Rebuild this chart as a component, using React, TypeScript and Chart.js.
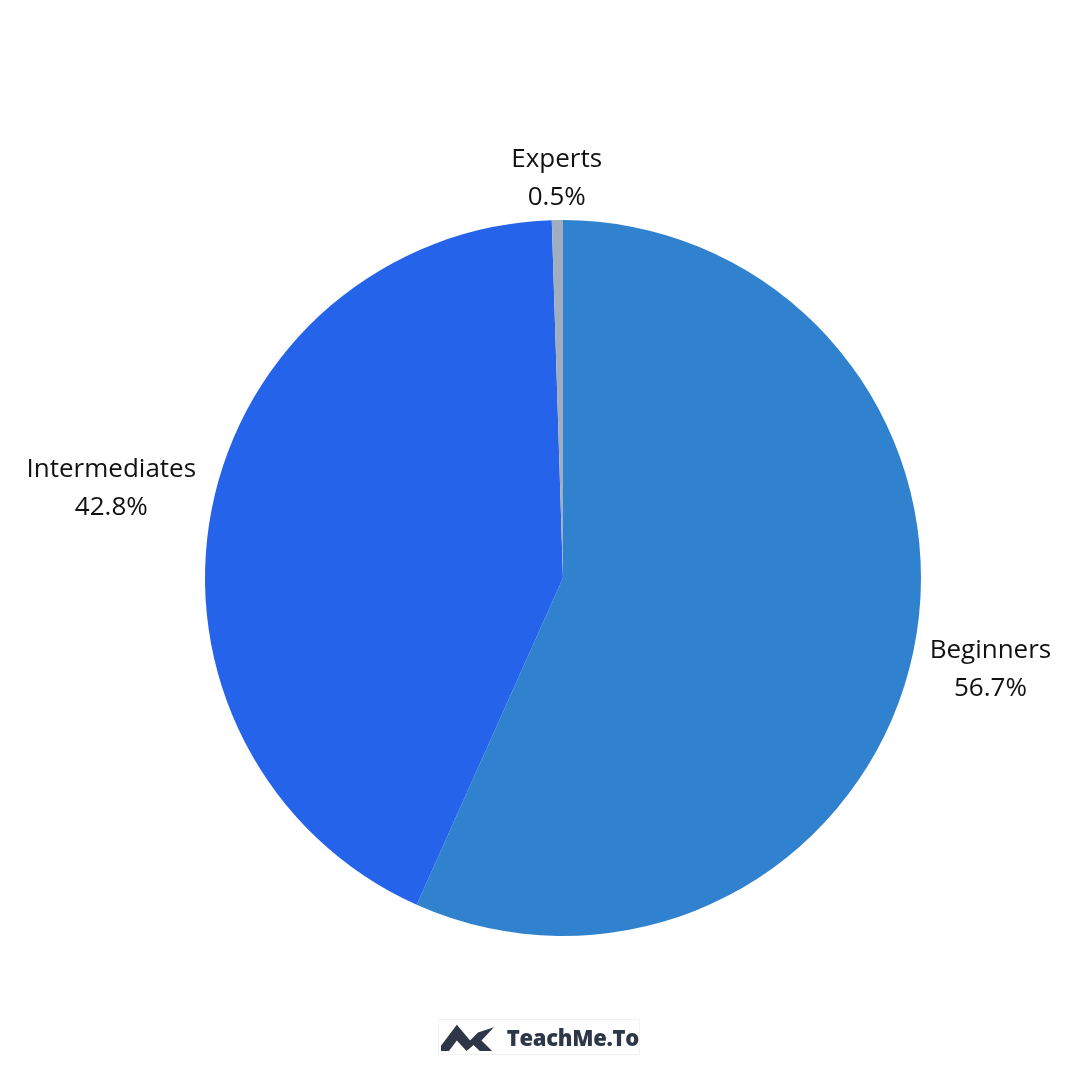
import React, { useEffect, useRef } from "react";
import { Chart, registerables } from "chart.js";

Chart.register(...registerables);

const categories = ["Beginners", "Intermediates", "Experts"];
const values = [56.7, 42.8, 0.5];
const colors = ["#3182CE", "#2563EB", "#A0AEC0"];

const labelPlugin = {
  id: "outerLabels",
  afterDatasetsDraw(chart: any) {
    const ctx = chart.ctx;
    const meta = chart.getDatasetMeta(0);
    ctx.save();
    ctx.font = "26px 'Open Sans', 'Noto Sans', sans-serif";
    ctx.fillStyle = "#111111";
    ctx.textAlign = "center";
    ctx.textBaseline = "middle";
    const lineH = 38;
    meta.data.forEach((arc: any, i: number) => {
      const { x, y, startAngle, endAngle, outerRadius } = arc.getProps(
        ["x", "y", "startAngle", "endAngle", "outerRadius"],
        true
      );
      const mid = (startAngle + endAngle) / 2;
      const lines = [categories[i], values[i].toFixed(1) + "%"];
      const w = Math.max(...lines.map((l) => ctx.measureText(l).width));
      const halfW = w / 2;
      const halfH = lineH / 2 + 8;
      const c = Math.cos(mid);
      const s = Math.sin(mid);
      const d = outerRadius + 14 + halfW * Math.abs(c) + halfH * Math.abs(s);
      const cx = x + c * d;
      const cy = y + s * d;
      ctx.fillText(lines[0], cx, cy - lineH / 2);
      ctx.fillText(lines[1], cx, cy + lineH / 2);
    });
    ctx.restore();
  },
};

export default function App() {
  const ref = useRef<HTMLCanvasElement | null>(null);
  useEffect(() => {
    if (!ref.current) return;
    const chart = new Chart(ref.current, {
      type: "pie",
      data: {
        labels: categories,
        datasets: [
          {
            data: values,
            backgroundColor: colors,
            borderWidth: 0,
          },
        ],
      },
      options: {
        animation: false,
        responsive: false,
        layout: { padding: { top: 220, bottom: 144, left: 205, right: 159 } },
        plugins: {
          legend: { display: false },
          tooltip: { enabled: false },
        },
      },
      plugins: [labelPlugin],
    });
    return () => chart.destroy();
  }, []);
  return (
    <div style={{ position: "absolute", left: 0, top: 0, width: 1080, height: 1080, background: "#fff" }}>
      <canvas ref={ref} width={1080} height={1080} style={{ position: "absolute", left: 0, top: 0 }} />
      <div
        style={{
          position: "absolute",
          left: 438,
          top: 1019,
          width: 202,
          height: 36,
          display: "flex",
          alignItems: "center",
          gap: 13,
          border: "1px solid #f3f3f3",
          boxSizing: "border-box",
        }}
      >
        <svg width="58" height="32" viewBox="0 0 60 34" style={{ marginLeft: 2 }}>
          <path
            d="M0 33 L9 33 L18 21 L29 33 L37 26 L44 33 L58 33 L46 21 L60 6 L42 12 L33 21 L18 3 L0 27 Z"
            fill="#2D3748"
          />
        </svg>
        <span
          style={{
            fontFamily: "'Open Sans', 'Noto Sans', sans-serif",
            fontWeight: 800,
            fontSize: 22,
            color: "#2D3748",
            letterSpacing: -0.3,
          }}
        >
          TeachMe.To
        </span>
      </div>
    </div>
  );
}
